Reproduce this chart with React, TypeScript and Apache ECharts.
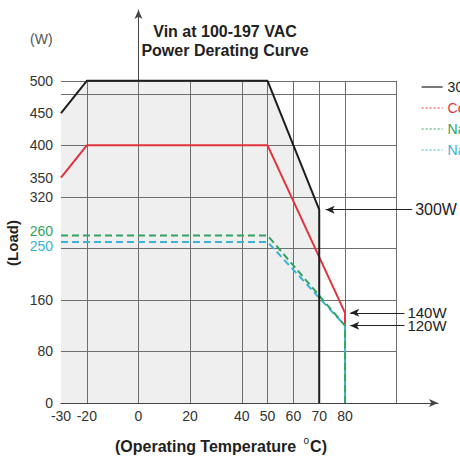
import React, { useEffect, useRef } from "react";
import * as echarts from "echarts";

const xTickValues = [-30, -20, 0, 20, 40, 50, 60, 70, 80];
const yTickValues = [0, 80, 160, 250, 260, 320, 350, 400, 450, 500];
const xGridValues = [-20, 0, 20, 40, 50, 60, 70, 80, 100];
const yGridValues = [80, 160, 240, 320, 400, 480, 500];

const seriesNames = ["300W", "Conduction", "Natural Air 260W", "Natural Air 250W"];
const blackTemps = [-30, -20, 50, 70, 70];
const blackLoads = [450, 500, 500, 300, 0];
const redTemps = [-30, -20, 50, 80, 80];
const redLoads = [350, 400, 400, 140, 120];
const greenTemps = [-30, 50, 80, 80];
const greenLoads = [260, 260, 120, 0];
const cyanTemps = [-30, 50, 80, 80];
const cyanLoads = [250, 250, 120, 0];

const annotations = [
  { text: "300W", y: 300, from: 106, to: 72.5, size: 16, lh: 16 },
  { text: "140W", y: 140, from: 103, to: 82, size: 15, lh: 11 },
  { text: "120W", y: 120, from: 103, to: 82, size: 15, lh: 11 },
];

const colors = { black: "#1e1e1e", red: "#e2333f", green: "#2fa463", cyan: "#3bb3d6", grid: "#6e6e6e" };

const zip = (xs: number[], ys: number[]) => xs.map((x, i) => [x, ys[i]]);

export default function App() {
  const ref = useRef<HTMLDivElement>(null);
  useEffect(() => {
    if (!ref.current) return;
    const chart = echarts.init(ref.current, undefined, { renderer: "svg" });
    const font = "Liberation Sans, Arial, sans-serif";
    const gridLines: any[] = [];
    xGridValues.forEach((v) => gridLines.push([{ coord: [v, 0] }, { coord: [v, 500] }]));
    yGridValues.forEach((v) => gridLines.push([{ coord: [-30, v] }, { coord: [100, v] }]));

    const annLines = annotations.map((a) => [
      { coord: [a.from, a.y], label: { formatter: a.text, fontSize: a.size, lineHeight: a.lh } },
      { coord: [a.to, a.y] },
    ]);

    const hiddenSymbol = { opacity: 0 };
    const option: any = {
      animation: false,
      textStyle: { fontFamily: font },
      title: {
        text: "Vin at 100-197 VAC\nPower Derating Curve",
        left: 220,
        top: 17,
        textAlign: "center",
        textStyle: { fontSize: 16, fontWeight: "bold", color: "#222", lineHeight: 19, fontFamily: font },
      },
      legend: {
        orient: "vertical",
        left: 416,
        top: 75,
        itemWidth: 21,
        itemHeight: 8,
        itemGap: 7,
        textStyle: { fontSize: 14, fontFamily: font },
        data: [
          { name: seriesNames[0], itemStyle: hiddenSymbol, textStyle: { color: colors.black }, lineStyle: { type: "solid", width: 1.2 } },
          { name: seriesNames[1], itemStyle: hiddenSymbol, textStyle: { color: colors.red }, lineStyle: { type: [2, 2], width: 1 } },
          { name: seriesNames[2], itemStyle: hiddenSymbol, textStyle: { color: colors.green }, lineStyle: { type: [2, 2], width: 1 } },
          { name: seriesNames[3], itemStyle: hiddenSymbol, textStyle: { color: colors.cyan }, lineStyle: { type: [2, 2], width: 1 } },
        ],
      },
      grid: { left: 61, right: 22, top: 10, bottom: 53 },
      xAxis: {
        type: "value",
        min: -30,
        max: 116,
        splitLine: { show: false },
        axisLine: { show: true, lineStyle: { color: "#444", width: 1 }, symbol: ["none", "arrow"], symbolSize: [6, 9] },
        axisTick: { show: false },
        axisLabel: {
          customValues: xTickValues,
          color: "#333",
          fontSize: 14,
          margin: 6,
          fontFamily: font,
        },
      },
      yAxis: {
        type: "value",
        min: 0,
        max: 610,
        splitLine: { show: false },
        axisLine: { show: true, lineStyle: { color: "#444", width: 1 }, symbol: ["none", "arrow"], symbolSize: [6, 9] },
        axisTick: { show: false },
        axisLabel: {
          customValues: yTickValues,
          color: "#333",
          fontSize: 14,
          margin: 8,
          fontFamily: font,
          formatter: (v: number) => (v === 260 ? "{g|260}" : v === 250 ? "{c|250}" : String(v)),
          rich: {
            g: { color: colors.green, fontSize: 14, padding: [0, 0, 8, 0], fontFamily: font },
            c: { color: colors.cyan, fontSize: 14, padding: [8, 0, 0, 0], fontFamily: font },
          },
        },
      },
      graphic: [
        { type: "text", left: 30, top: 32, style: { text: "(W)", fontSize: 14, fill: "#555", fontFamily: font } },
        {
          type: "text",
          x: 12,
          y: 243,
          rotation: Math.PI / 2,
          style: { text: "(Load)", fontSize: 15, fontWeight: "bold", fill: "#222", align: "center", verticalAlign: "middle", fontFamily: font },
        },
        {
          type: "text",
          x: 221,
          y: 446,
          style: {
            text: "(Operating Temperature {s|o}C)",
            fontSize: 16,
            fontWeight: "bold",
            fill: "#222",
            align: "center",
            verticalAlign: "middle",
            fontFamily: font,
            rich: { s: { fontSize: 10, fontWeight: "normal", fill: "#222", padding: [0, 1, 12, 3], fontFamily: font } },
          },
        },
      ],
      series: [
        {
          type: "line",
          name: "area",
          data: zip(blackTemps, blackLoads),
          symbol: "none",
          lineStyle: { width: 0 },
          areaStyle: { color: "#efefef", opacity: 1 },
          silent: true,
          z: 1,
          legendHoverLink: false,
        },
        {
          type: "line",
          name: "grid",
          data: [],
          z: 2,
          silent: true,
          markLine: {
            silent: true,
            symbol: ["none", "none"],
            label: { show: false },
            lineStyle: { color: colors.grid, width: 1, type: "solid" },
            data: gridLines,
            z: 2,
          },
        },
        {
          type: "line",
          name: seriesNames[3],
          data: zip(cyanTemps, cyanLoads),
          symbol: "none",
          color: colors.cyan,
          lineStyle: { color: colors.cyan, width: 2, type: [7, 4] },
          z: 4,
        },
        {
          type: "line",
          name: seriesNames[2],
          data: zip(greenTemps, greenLoads),
          symbol: "none",
          color: colors.green,
          lineStyle: { color: colors.green, width: 2, type: [7, 4] },
          z: 4,
        },
        {
          type: "line",
          name: seriesNames[1],
          data: zip(redTemps, redLoads),
          symbol: "none",
          color: colors.red,
          lineStyle: { color: colors.red, width: 2 },
          z: 3,
        },
        {
          type: "line",
          name: seriesNames[0],
          data: zip(blackTemps, blackLoads),
          symbol: "none",
          color: colors.black,
          lineStyle: { color: colors.black, width: 2 },
          z: 5,
          markLine: {
            silent: true,
            symbol: ["none", "arrow"],
            symbolSize: [6, 9],
            lineStyle: { color: "#222", width: 1, type: "solid" },
            label: { show: true, position: "start", distance: 3, fontSize: 16, color: "#222", fontFamily: font },
            data: annLines,
          },
        },
      ],
    };
    chart.setOption(option);
    return () => chart.dispose();
  }, []);
  return <div ref={ref} style={{ position: "absolute", left: 0, top: 0, width: 460, height: 456 }} />;
}
